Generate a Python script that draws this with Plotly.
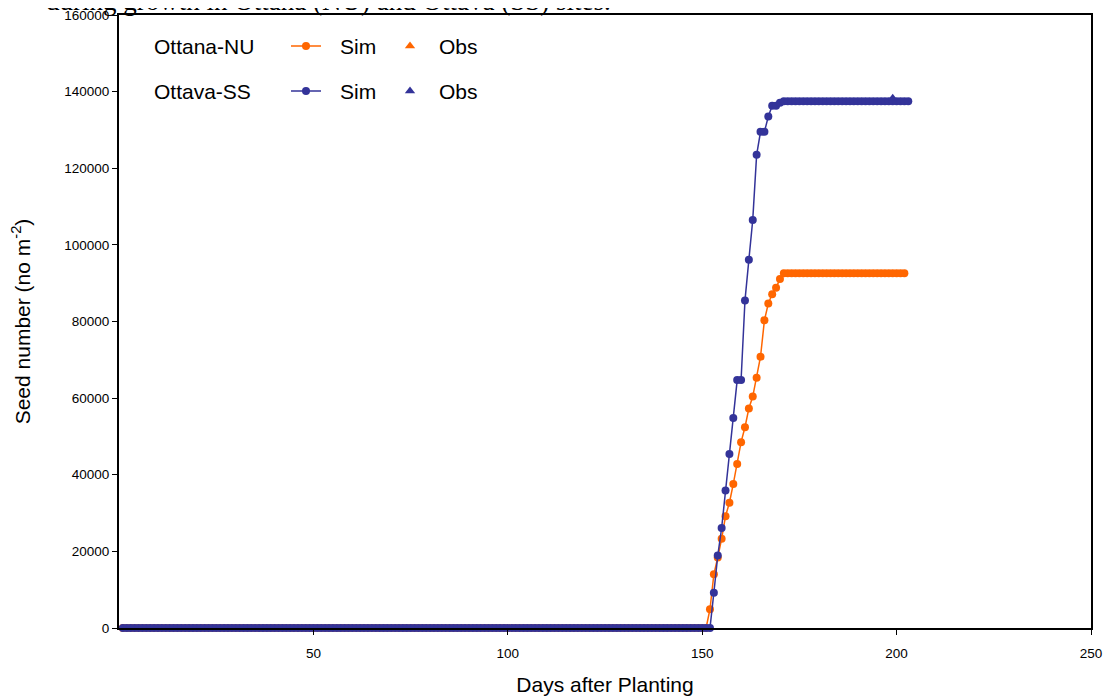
import plotly.graph_objects as go

# ---------------- data ----------------
days_nu = list(range(1, 203))          # Ottana-NU simulated, day 1..202
rise_nu = [4900, 14000, 18400, 23300, 29200, 32700, 37600, 42800, 48500, 52400,
           57300, 60400, 65300, 70800, 80300, 84700, 87100, 88800, 91100, 92600]
sim_nu = [0] * 151 + rise_nu + [92600] * (202 - 151 - len(rise_nu))

days_ss = list(range(1, 204))          # Ottava-SS simulated, day 1..203
rise_ss = [9200, 18900, 26100, 35900, 45400, 54800, 64700, 64700, 85500, 96100,
           106500, 123500, 129500, 129500, 133500, 136300, 136300, 137100, 137500]
sim_ss = [0] * 152 + rise_ss + [137500] * (203 - 152 - len(rise_ss))

obs_ss_days = [199]
obs_ss = [138300]

x_ticks = [50, 100, 150, 200, 250]
y_ticks = list(range(0, 160001, 20000))

ORANGE = "#FF6600"
BLUE = "#333399"
SANS = "Liberation Sans, Arial"

fig = go.Figure()
fig.add_trace(go.Scatter(x=days_nu, y=sim_nu, mode="lines+markers",
                         line=dict(color=ORANGE, width=1.5),
                         marker=dict(color=ORANGE, size=8, symbol="circle"),
                         cliponaxis=False, showlegend=False))
fig.add_trace(go.Scatter(x=days_ss, y=sim_ss, mode="lines+markers",
                         line=dict(color=BLUE, width=1.5),
                         marker=dict(color=BLUE, size=8, symbol="circle"),
                         cliponaxis=False, showlegend=False))
fig.add_trace(go.Scatter(x=obs_ss_days, y=obs_ss, mode="markers",
                         marker=dict(color=BLUE, size=9, symbol="triangle-up"),
                         cliponaxis=False, showlegend=False))

# ---------------- hand-made legend (overlay axis in plot-pixel units) ----------------
legend_rows = [("Ottana-NU", ORANGE, 46), ("Ottava-SS", BLUE, 91)]
for name, col, ypx in legend_rows:
    fig.add_trace(go.Scatter(x=[291, 321], y=[ypx, ypx], mode="lines",
                             line=dict(color=col, width=1.5), xaxis="x2", yaxis="y2",
                             showlegend=False, hoverinfo="skip"))
    fig.add_trace(go.Scatter(x=[306], y=[ypx], mode="markers",
                             marker=dict(color=col, size=8), xaxis="x2", yaxis="y2",
                             showlegend=False, hoverinfo="skip"))
    fig.add_trace(go.Scatter(x=[410], y=[ypx], mode="markers",
                             marker=dict(color=col, size=9, symbol="triangle-up"),
                             xaxis="x2", yaxis="y2", showlegend=False, hoverinfo="skip"))
    for txt, xp in [(name, 152), ("Sim", 338), ("Obs", 437)]:
        fig.add_annotation(x=xp, y=ypx, xref="x2", yref="y2", text=txt,
                           xanchor="left", yanchor="middle", showarrow=False,
                           font=dict(family=SANS, size=21, color="black"))

# clipped caption at the very top
fig.add_annotation(x=613, y=15, xref="x2", yref="y2",
                   text="during growth in Ottana (NU) and Ottava (SS) sites.",
                   xanchor="right", yanchor="bottom", yshift=-3, showarrow=False,
                   font=dict(family="Liberation Serif, Times New Roman", size=27, color="black"))

axis_font = dict(family=SANS, size=13.5, color="black")
# the page body adds an 8 px offset, so the figure is 8 px smaller and margins reduced
fig.update_layout(
    width=1105, height=690,
    margin=dict(l=111, r=22, t=7, b=70, autoexpand=False),
    paper_bgcolor="white", plot_bgcolor="white",
    font=dict(family=SANS, color="black"),
    xaxis=dict(range=[0, 250], tickvals=x_ticks, ticktext=[str(v) for v in x_ticks],
               showgrid=False, zeroline=False, showline=True, linecolor="black",
               linewidth=2, mirror=True, ticks="outside", ticklen=5, tickcolor="black",
               tickfont=axis_font, ticklabelstandoff=7, automargin=False,
               ticklabeloverflow="allow",
               title=dict(text="Days after Planting", standoff=17,
                          font=dict(family=SANS, size=21))),
    yaxis=dict(range=[0, 160000], tickvals=y_ticks, ticktext=[str(v) for v in y_ticks],
               showgrid=False, zeroline=False, showline=True, linecolor="black",
               linewidth=2, mirror=True, ticks="outside", ticklen=5, tickcolor="black",
               tickfont=axis_font, automargin=False, ticklabeloverflow="allow",
               title=dict(text="Seed number (no m<sup>-2</sup>)", standoff=32,
                          font=dict(family=SANS, size=21))),
    xaxis2=dict(range=[119, 1091], overlaying="x", visible=False, fixedrange=True),
    yaxis2=dict(range=[628, 15], overlaying="y", visible=False, fixedrange=True),
)

fig.write_html("out.html")
